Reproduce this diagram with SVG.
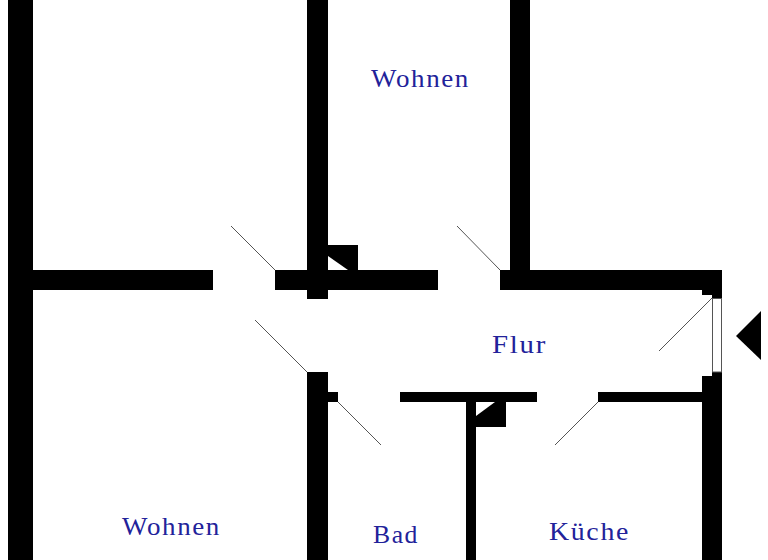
<svg xmlns="http://www.w3.org/2000/svg" width="768" height="560" viewBox="0 0 768 560">
<style>
.w{fill:#000}
.d{stroke:#555;stroke-width:1;fill:none}
.t{font-family:"Liberation Serif",serif;font-size:25px;fill:#22229a;letter-spacing:1.5px}
</style>
<rect width="768" height="560" fill="#fff"/>
<g id="walls">
<rect class="w" x="8" y="0" width="25" height="560"/>
<rect class="w" x="33" y="270" width="180" height="20"/>
<rect class="w" x="307" y="0" width="21" height="299"/>
<rect class="w" x="275" y="270" width="163" height="20"/>
<rect class="w" x="510" y="0" width="20" height="270"/>
<path class="w" d="M500 270H722V298H712V295H702V290H500Z"/>
<path class="w" d="M712 372H722V560H702V376H712Z"/>
<rect class="w" x="598" y="392" width="104" height="10"/>
<rect class="w" x="307" y="372" width="21" height="188"/>
<rect class="w" x="328" y="392" width="10" height="10"/>
<rect class="w" x="400" y="392" width="137" height="10"/>
<rect class="w" x="466" y="402" width="10" height="158"/>
<path class="w" d="M328 245H358V270H348L328 256Z"/>
<path class="w" d="M476 416L495 402H506V427H476Z"/>
<path class="w" d="M736 336L761 311V360Z"/>
</g>
<g id="window">
<rect x="712.500" y="298.500" width="9" height="73.500" fill="#fff" stroke="#555" stroke-width="1"/>
</g>
<g id="doors">
<line class="d" x1="275" y1="270" x2="231" y2="226"/>
<line class="d" x1="500" y1="270" x2="457" y2="226"/>
<line class="d" x1="712" y1="298" x2="659" y2="351"/>
<line class="d" x1="307" y1="372" x2="255" y2="320"/>
<line class="d" x1="338" y1="402" x2="381" y2="445"/>
<line class="d" x1="598" y1="402" x2="555" y2="445"/>
</g>
<g id="labels">
<text class="t" x="371" y="87" textLength="99" lengthAdjust="spacingAndGlyphs">Wohnen</text>
<text class="t" x="492" y="353" textLength="55" lengthAdjust="spacingAndGlyphs">Flur</text>
<text class="t" x="122" y="535" textLength="99" lengthAdjust="spacingAndGlyphs">Wohnen</text>
<text class="t" x="373" y="543" textLength="46" lengthAdjust="spacingAndGlyphs">Bad</text>
<text class="t" x="549" y="540" textLength="81" lengthAdjust="spacingAndGlyphs">Küche</text>
</g>
</svg>
